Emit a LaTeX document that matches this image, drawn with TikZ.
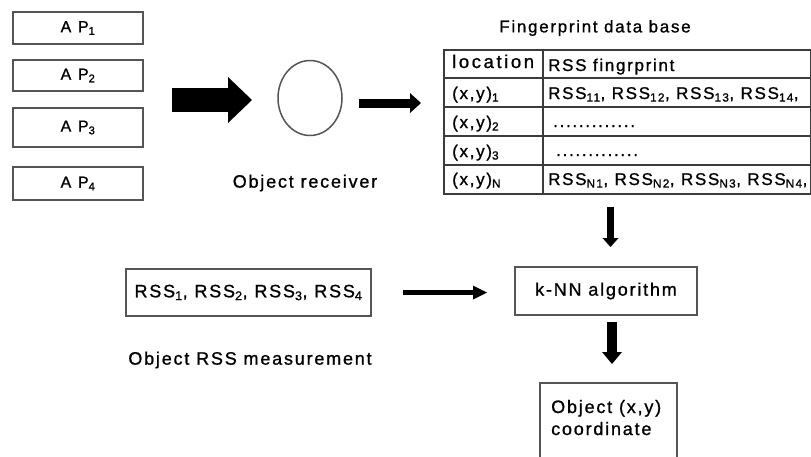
\documentclass[tikz,border=0pt]{standalone}
\usepackage{fontspec}
\setmainfont{Liberation Sans}
\newfontfamily\lsp{Liberation Sans}[LetterSpace=10,FakeBold=1]
\newfontfamily\lspw{Liberation Sans}[LetterSpace=14,FakeBold=1]
\usetikzlibrary{arrows.meta,shapes.geometric}
\definecolor{boxgray}{HTML}{555555}
\definecolor{tabgray}{HTML}{3C3C3C}
\newcommand\mysub[1]{\textsubscript{#1}}
\begin{document}
\begin{tikzpicture}[x=1pt,y=-1pt,
  box/.style={draw=boxgray, line width=1.6pt, inner sep=0pt},
  txt/.style={font=\lsp\fontsize{18}{22}\selectfont, inner sep=0pt},
  aptxt/.style={font=\lspw\fontsize{16}{18}\selectfont},
  tabtxt/.style={font=\lsp\fontsize{17}{20}\selectfont, inner sep=0pt, anchor=base west},
  tabline/.style={draw=tabgray, line width=1.5pt},
  bigarrow/.style={line width=24pt, -{Triangle[length=24pt,width=46pt,line width=0pt]}},
  midarrow/.style={line width=9pt, -{Triangle[length=11pt,width=20pt,line width=0pt]}},
  thinarrow/.style={line width=5pt, -{Triangle[length=14pt,width=14pt,line width=0pt]}},
  downone/.style={line width=7pt, -{Triangle[length=9pt,width=16pt,line width=0pt]}},
  downtwo/.style={line width=10pt, -{Triangle[length=12pt,width=20pt,line width=0pt]}},
]
\useasboundingbox (0,0) rectangle (811,456);
\clip (0,0) rectangle (811,456);

% access points
\node[box, aptxt, minimum width=130pt, minimum height=32pt] (ap1) at (78,28) {A P\mysub{1}};
\node[box, aptxt, minimum width=130pt, minimum height=31pt] (ap2) at (78,75.5) {A P\mysub{2}};
\node[box, aptxt, minimum width=130pt, minimum height=39pt] (ap3) at (78,127.5) {A P\mysub{3}};
\node[box, aptxt, minimum width=130pt, minimum height=33pt] (ap4) at (78,183.5) {A P\mysub{4}};

% big arrow to receiver
\coordinate (b1) at (172,100);
\coordinate (b2) at (252,100);
\draw[bigarrow] (b1) -- (b2);

% receiver
\node[ellipse, draw=boxgray, line width=1.5pt, minimum width=64pt, minimum height=75pt, inner sep=0pt] (rx) at (310,98) {};
\node[txt] (rxlabel) at (305,183) {Object receiver};

\coordinate (m1) at (359,103);
\coordinate (m2) at (421,103);
\draw[midarrow] (m1) -- (m2);

% fingerprint database
\node[txt, font=\lsp\fontsize{17}{20}\selectfont] (dbtitle) at (595,28) {Fingerprint data base};
\node[draw=tabgray, line width=1.5pt, minimum width=367pt, minimum height=144pt, anchor=north west, inner sep=0pt] (db) at (443,49) {};
\draw[tabline] (543,49) -- (543,193);
\foreach \yy in {78,107,136,165} \draw[tabline] (443,\yy) -- (810,\yy);

\node[tabtxt, font=\lspw\fontsize{18.5}{20}\selectfont] (h1) at (452,68) {location};
\node[tabtxt] (h2) at (548,71) {RSS fingrprint};
\node[tabtxt] (l1) at (452,99) {(x,y)\mysub{1}};
\node[tabtxt] (r1) at (548,99) {RSS\mysub{11}, RSS\mysub{12}, RSS\mysub{13}, RSS\mysub{14},};
\node[tabtxt] (l2) at (452,128) {(x,y)\mysub{2}};
\node[tabtxt] (r2) at (553,127) {.............};
\node[tabtxt] (l3) at (452,157) {(x,y)\mysub{3}};
\node[tabtxt] (r3) at (556,156) {.............};
\node[tabtxt] (l4) at (452,185) {(x,y)\mysub{N}};
\node[tabtxt] (r4) at (548,185) {RSS\mysub{N1}, RSS\mysub{N2}, RSS\mysub{N3}, RSS\mysub{N4},};

% down to kNN
\coordinate (d1a) at (610.5,207);
\coordinate (d1b) at (610.5,247);
\draw[downone] (d1a) -- (d1b);

\node[box, txt, minimum width=182pt, minimum height=48pt] (knn) at (606,291) {k-NN algorithm};

\coordinate (d2a) at (612,322);
\coordinate (d2b) at (612,364);
\draw[downtwo] (d2a) -- (d2b);

\node[box, minimum width=137pt, minimum height=100pt, anchor=north west] (obj) at (539,382) {};
\node[txt, anchor=base west] (objt1) at (551,413) {Object (x,y)};
\node[txt, anchor=base west] (objt2) at (551,435) {coordinate};

% object measurement
\node[box, txt, minimum width=245pt, minimum height=47pt] (rssm) at (248.5,292.5) {RSS\mysub{1}, RSS\mysub{2}, RSS\mysub{3}, RSS\mysub{4}};
\coordinate (t1) at (403,292.5);
\coordinate (t2) at (487,292.5);
\draw[thinarrow] (t1) -- (t2);
\node[txt] (rsslabel) at (250,360) {Object RSS measurement};
\end{tikzpicture}
\end{document}
